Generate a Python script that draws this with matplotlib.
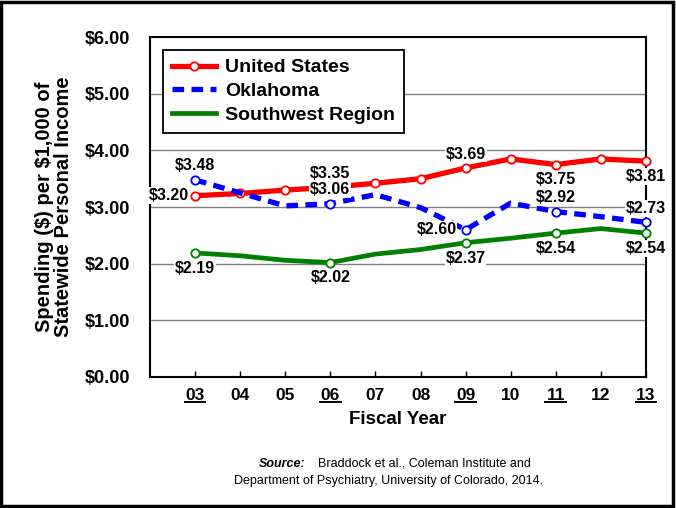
import numpy as np
import matplotlib.pyplot as plt
import matplotlib.transforms as mtransforms

plt.rcParams['font.family'] = ['Liberation Sans', 'DejaVu Sans']

years = [3, 4, 5, 6, 7, 8, 9, 10, 11, 12, 13]
year_labels = ['03', '04', '05', '06', '07', '08', '09', '10', '11', '12', '13']
key_years = [3, 6, 9, 11, 13]

us = [3.20, 3.24, 3.30, 3.35, 3.42, 3.50, 3.69, 3.85, 3.75, 3.85, 3.81]
ok = [3.48, 3.25, 3.02, 3.06, 3.22, 2.99, 2.60, 3.07, 2.92, 2.83, 2.73]
sw = [2.19, 2.14, 2.06, 2.02, 2.17, 2.25, 2.37, 2.45, 2.54, 2.62, 2.54]

# label placement per key year: (dx points, dy points, ha)
us_lab = {3: (-4.5, 0, 'right'), 6: (0, 10, 'center'), 9: (0, 10, 'center'),
          11: (0, -11, 'center'), 13: (0, -11, 'center')}
ok_lab = {3: (0, 10, 'center'), 6: (0, 10, 'center'), 9: (-6.5, 0, 'right'),
          11: (0, 10, 'center'), 13: (0, 10, 'center')}
sw_lab = {3: (0, -11, 'center'), 6: (0, -10.5, 'center'), 9: (0, -11, 'center'),
          11: (0, -11, 'center'), 13: (0, -11, 'center')}

fig = plt.figure(figsize=(6.76, 5.08), dpi=100)
ax = fig.add_axes([0.2219, 0.2579, 0.7337, 0.669])

for v in range(1, 6):
    ax.axhline(v, color='#808080', lw=1.0, zorder=0)

ax.plot(years, us, color='#ff0000', lw=3.8, marker='o', ms=6, clip_on=False,
        mfc='white', mec='#ff0000', mew=1.3, label='United States', zorder=3)
ax.plot(years, ok, color='#0000ff', lw=3.8, ls=(0, (2.2, 1.4)), clip_on=False,
        label='Oklahoma', zorder=3)
ax.plot(years, sw, color='#008000', lw=3.4, clip_on=False,
        label='Southwest Region', zorder=3)

for series, col in [(ok, '#0000ff'), (sw, '#008000')]:
    kx = [y for y in years if y in key_years]
    ky = [series[years.index(y)] for y in kx]
    ax.plot(kx, ky, ls='none', marker='o', ms=6, mfc='white', mec=col, mew=1.3,
            zorder=4, clip_on=False)

for series, labs in [(us, us_lab), (ok, ok_lab), (sw, sw_lab)]:
    for y in key_years:
        dx, dy, ha = labs[y]
        v = series[years.index(y)]
        ax.annotate('${:.2f}'.format(v), (y, v), xytext=(dx, dy), textcoords='offset points',
                    ha=ha, va='center', fontsize=11.5, fontweight='bold', zorder=5,
                    bbox=dict(boxstyle='square,pad=0.05', fc='white', ec='none'))

ax.set_xlim(2, 13)
ax.set_ylim(0, 6)
ax.set_yticks(np.arange(0, 7, 1))
ax.set_yticklabels(['${:.2f}'.format(v) for v in range(7)], fontsize=13, fontweight='bold')
ax.set_xticks(years)
ax.set_xticklabels(year_labels, fontsize=12.5, fontweight='bold')
ax.tick_params(axis='x', direction='in', length=4.5, width=1, pad=8)
ax.tick_params(axis='y', length=0, pad=14)
for s in ax.spines.values():
    s.set_linewidth(1.5)

# underline the key years
trans = mtransforms.blended_transform_factory(ax.transData, ax.transAxes)
for y in key_years:
    ax.plot([y - 0.23, y + 0.23], [-0.073, -0.073], color='black', lw=1.4,
            transform=trans, clip_on=False)

ax.set_xlabel('Fiscal Year', fontsize=13.5, fontweight='bold', labelpad=6)
ax.set_ylabel('Spending (\\$) per \\$1,000 of\nStatewide Personal Income', fontsize=14.5,
              fontweight='bold', linespacing=1.0, labelpad=9)

leg = ax.legend(loc='upper left', bbox_to_anchor=(0.026, 0.962),
                prop={'weight': 'bold', 'size': 14}, fancybox=False, framealpha=1,
                edgecolor='black', borderpad=0.45, labelspacing=0.32, handlelength=2.3,
                handletextpad=0.45, borderaxespad=0)
leg.get_frame().set_linewidth(1.3)
leg.set_zorder(6)

fig.text(0.452, 0.081, 'Source:', fontsize=9, fontweight='bold', style='italic', ha='right')
fig.text(0.47, 0.081, 'Braddock et al., Coleman Institute and', fontsize=9, ha='left')
fig.text(0.574, 0.048, 'Department of Psychiatry, University of Colorado, 2014.', fontsize=9, ha='center')

fig.patches.append(plt.Rectangle((0.002, 0.003), 0.994, 0.993, transform=fig.transFigure,
                                 fill=False, ec='black', lw=2.5))

fig.savefig('out.png', dpi=100)
